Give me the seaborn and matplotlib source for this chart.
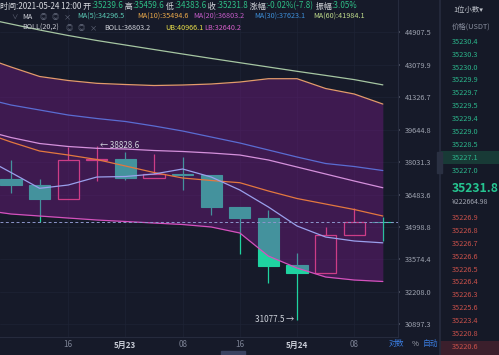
import matplotlib
matplotlib.use("Agg")
import matplotlib.pyplot as plt
from matplotlib.patches import Rectangle
from matplotlib.ticker import NullLocator, NullFormatter
import seaborn as sns

W, H = 499, 355
BG = "#161a29"

# 4h candles, 2021-05-22 08:00 -> 2021-05-24 12:00 (index 0..13)
candle_open = [37217, 36930, 36280, 38120, 38170, 37280, 37480, 37408, 35906, 35400, 33336, 33000, 34640, 35239.6]
candle_high = [38134, 37200, 38774, 38828.6, 38526, 38428, 38280, 37420, 35910, 35768, 33852, 34999, 35860, 35459.6]
candle_low = [36556, 35240, 36270, 37122, 37170, 37280, 36697, 35540, 33809, 32576, 31077.5, 32997, 34640, 34383.6]
candle_close = [36932, 36276, 38134, 38160, 37265, 37456, 37432, 35906, 35403, 33293, 32997, 34642, 35239.6, 35231.8]

# indicator lines, one value per candle plus the one before the first visible candle
line_x = list(range(-1, 14))
ma5 = [38280, 37528, 36776, 36932, 37312, 37336, 37456, 37697, 37312, 36697, 35906, 35044, 34553, 34377, 34296.5]
ma10 = [39525, 39023, 38575, 38378, 38158, 37842, 37528, 37265, 37146, 37041, 36650, 36299, 36044, 35791, 35494.6]
ma20 = [39627, 39248, 38948, 38799, 38709, 38675, 38600, 38551, 38477, 38378, 38134, 37793, 37456, 37122, 36803.2]
ma30 = [41284, 40916, 40655, 40395, 40215, 40061, 39831, 39576, 39273, 38973, 38625, 38280, 37963, 37817, 37623.1]
ma60 = [45737, 45387, 45040, 44724, 44439, 44183, 43929, 43677, 43431, 43193, 42956, 42720, 42496, 42268, 41984.1]
boll_ub = [43510, 42956, 42437, 42220, 42068, 42004, 41950, 41977, 42031, 42138, 42317, 42317, 41789, 41496, 40966.1]
boll_lb = [35768, 35586, 35495, 35403, 35314, 35246, 35178, 35111, 34999, 34731, 33720, 33208, 32828, 32702, 32640.2]

last_price = 35231.8
high_mark = 38828.6
low_mark = 31077.5

price_ticks = [44907.5, 43079.9, 41326.7, 39644.8, 38031.3, 36483.6, 34998.8, 33574.4, 32208.0, 30897.3]
time_ticks = [2, 4, 6, 8, 10, 12]
time_labels = ["16", "5月23", "08", "16", "5月24", "08"]

asks = ["35230.4", "35230.3", "35230.0", "35229.9", "35229.7", "35229.5",
        "35229.4", "35229.0", "35228.5", "35227.1", "35227.0"]
bids = ["35226.9", "35226.8", "35226.7", "35226.6", "35226.5", "35226.4",
        "35226.3", "35225.6", "35223.4", "35220.8", "35220.6"]

UP = "#f0507e"
DOWN = "#1fd3a0"

sns.set_theme(style="dark", rc={"axes.facecolor": BG, "figure.facecolor": BG})
plt.rcParams["font.family"] = ["Noto Sans CJK SC", "DejaVu Sans"]

fig = plt.figure(figsize=(W / 100, H / 100), dpi=100)
ax = fig.add_axes([0, 18 / H, 398 / W, 337 / H])
ax.set_yscale("log")

# candles (under the bollinger overlay)
for i in range(len(candle_open)):
    o, h, l, c = candle_open[i], candle_high[i], candle_low[i], candle_close[i]
    col = UP if c > o else DOWN
    top, bot = max(o, c), min(o, c)
    ax.vlines(i, top, h, color=col, lw=0.9, zorder=2)
    ax.vlines(i, l, bot, color=col, lw=0.9, zorder=2)
    if c > o:
        ax.bar(i, top - bot, bottom=bot, width=0.74, facecolor="none", edgecolor=col, lw=0.9, zorder=2)
    else:
        ax.bar(i, top - bot, bottom=bot, width=0.74, color=col, edgecolor=col, lw=0.8, zorder=2)

ax.fill_between(line_x, boll_lb, boll_ub, color="#8a1a9a", alpha=0.35, lw=0, zorder=3)

lines = [(ma60, "#a6c6a2"), (boll_ub, "#e39a6c"), (ma30, "#5a6cd2"), (ma20, "#d591dc"),
         (ma10, "#e3783f"), (ma5, "#9aa0ec"), (boll_lb, "#d452bd")]
for vals, col in lines:
    sns.lineplot(x=line_x, y=vals, ax=ax, color=col, linewidth=0.9, zorder=4)

ax.axhline(last_price, color="#8d96cc", lw=0.7, ls=(0, (3, 2.5)), zorder=4)

ax.annotate("← " + f"{high_mark:.1f}", xy=(3, high_mark), xytext=(2, 0), textcoords="offset points",
            ha="left", va="center", color="#d0d4dc", fontsize=5.8)
ax.annotate(f"{low_mark:.1f}" + " →", xy=(10, low_mark), xytext=(-2, 0), textcoords="offset points",
            ha="right", va="center", color="#d0d4dc", fontsize=5.8)

ax.set_xlim(-0.385, 13.53)
ax.set_ylim(30401, 46804)
ax.set_xlabel("")
ax.set_ylabel("")

ax.yaxis.tick_right()
ax.set_yticks(price_ticks)
ax.set_yticklabels([f"{v:.1f}" for v in price_ticks])
ax.yaxis.set_minor_locator(NullLocator())
ax.yaxis.set_minor_formatter(NullFormatter())
ax.tick_params(axis="y", length=1.5, color="#4a5060", pad=3.5, labelsize=5.3, labelcolor="#9ea3b0")

ax.set_xticks(time_ticks)
ax.set_xticklabels(time_labels)
ax.tick_params(axis="x", length=0, pad=2.5, labelsize=5.8, labelcolor="#7c8294")
for lbl in ax.get_xticklabels():
    if "月" in lbl.get_text():
        lbl.set_color("#c8ccd6")
        lbl.set_fontweight("bold")

ax.grid(True, color="#1e2335", lw=0.5)
ax.set_axisbelow(True)
for side in ["top", "left"]:
    ax.spines[side].set_visible(False)
for side in ["right", "bottom"]:
    ax.spines[side].set_color("#262b3d")
    ax.spines[side].set_linewidth(0.8)


def put(x, y, s, color, size=5.2, weight="normal"):
    return fig.text(x / W, 1 - y / H, s, color=color, fontsize=size, ha="left", va="center",
                    fontweight=weight)


# header line 1, laid out piece by piece
WHITE, GREEN = "#d8dae0", "#2ebd85"
renderer = fig.canvas.get_renderer()
x = 0
for s, col in [("时间:2021-05-24 12:00 开", WHITE), (":35239.6", GREEN), (" 高", WHITE), (":35459.6", GREEN),
               (" 低", WHITE), (":34383.6", GREEN), (" 收", WHITE), (":35231.8", GREEN),
               (" 涨幅", WHITE), (":-0.02%(-7.8)", GREEN), (" 振幅", WHITE), (":3.05%", GREEN)]:
    t = put(x, 6, s, col, size=5.8)
    x += t.get_window_extent(renderer).width

ICON = "#686e80"
put(11, 17, "∨", ICON, size=4.6)
put(22, 17, "MA", "#d0d2da")
put(40, 17, "◎", ICON)
put(52, 17, "◎", ICON)
put(64, 17, "×", ICON)
put(77, 17, "MA(5):34296.5", "#5ac8b4")
put(137, 17, "MA(10):35494.6", "#e9a84a")
put(193, 17, "MA(20):36803.2", "#c45cc8")
put(254, 17, "MA(30):37623.1", "#3d8ed8")
put(313, 17, "MA(60):41984.1", "#c0dc8c")

put(22, 28, "BOLL(20,2)", "#c8cad2")
put(66, 28, "◎", ICON)
put(78, 28, "◎", ICON)
put(90, 28, "×", ICON)
put(104, 28, "BOLL:36803.2", "#d0d2da")
put(165, 28, "UB:40966.1", "#e6dc4a")
put(204, 28, "LB:32640.2", "#d35ec8")

# bottom-right axis switches
put(389, 344, "对数", "#3b7de0", size=5.6)
put(412, 344, "%", "#a0a4b0", size=5.6)
put(423, 344, "自动", "#3b7de0", size=5.6)

fig.patches.append(Rectangle((221 / W, 0), 24 / W, 4 / H, transform=fig.transFigure,
                             color="#3a4260", zorder=5))
fig.patches.append(Rectangle((437 / W, 1 - 173 / H), 5 / W, 21 / H, transform=fig.transFigure,
                             color="#2a3042", zorder=5))

# order book panel
rp = fig.add_axes([440 / W, 0, 59 / W, 1])
rp.set_facecolor("#151927")
rp.set_xlim(0, 59)
rp.set_ylim(H, 0)
rp.set_xticks([])
rp.set_yticks([])
for side in ["top", "right", "bottom"]:
    rp.spines[side].set_visible(False)
rp.spines["left"].set_color("#262b3d")

rp.add_patch(Rectangle((0, 151), 59, 12.5, color="#183a36", lw=0))
rp.add_patch(Rectangle((0, 341), 59, 14, color="#3b1f2c", lw=0))

rp.text(13, 10, "1位小数▾", color="#c0c4cc", fontsize=5.3, va="center")
rp.text(12, 27, "价格(USDT)", color="#8a90a0", fontsize=5.3, va="center")
for k, v in enumerate(asks):
    rp.text(12, 41.7 + 12.93 * k, v, color="#2bb48a", fontsize=5.3, va="center")
rp.text(12, 189, f"{last_price:.1f}", color="#25c490", fontsize=8.8, fontweight="bold", va="center")
rp.text(12, 202, "¥222664.98", color="#a0a4b0", fontsize=5.0, va="center")
for k, v in enumerate(bids):
    rp.text(12, 218.3 + 12.84 * k, v, color="#c8504a", fontsize=5.3, va="center")

fig.savefig("out.png", dpi=100, facecolor=BG)
